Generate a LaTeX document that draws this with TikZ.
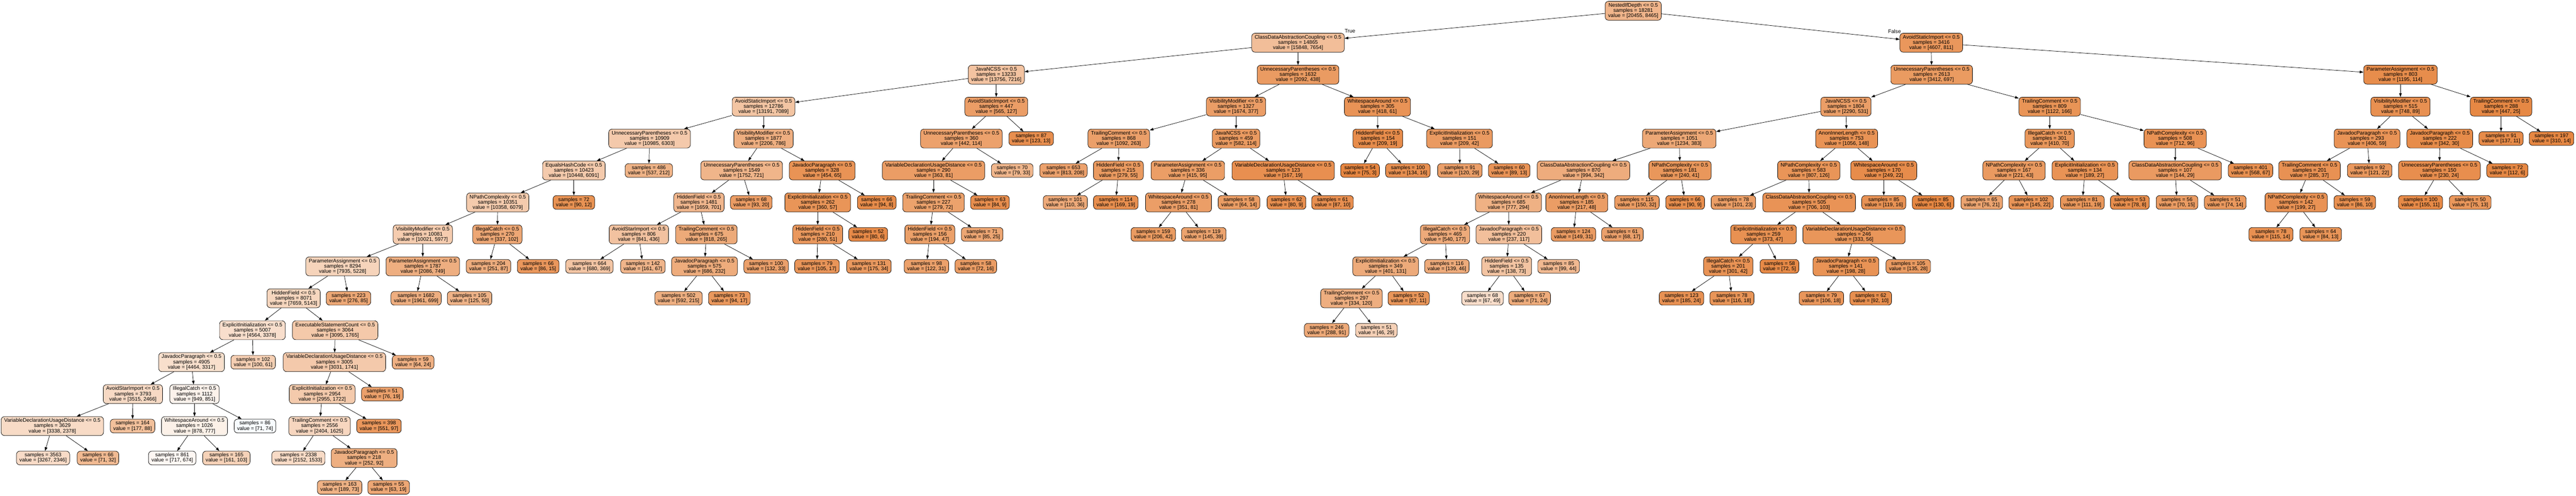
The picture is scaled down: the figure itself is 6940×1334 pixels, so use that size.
\documentclass[tikz,border=0pt]{standalone}
\usepackage{fontspec}
\setmainfont{Liberation Sans}
\usetikzlibrary{arrows.meta}
\definecolor{orng}{RGB}{229,129,57}
\definecolor{blu}{RGB}{57,157,229}
\newcommand{\setnfc}[2]{%
  \ifnum#1<#2\relax
    \edef\tmpc{blu!\fpeval{round(100*(1-#1/#2),2)}!white}%
  \else
    \edef\tmpc{orng!\fpeval{round(100*(1-#2/#1),2)}!white}%
  \fi
  \colorlet{nfc}{\tmpc}}
\newcommand{\levy}[1]{\ifnum#1=15 1312\else\the\numexpr29+86*#1\relax\fi}
\newcommand{\inode}[7]{\setnfc{#6}{#7}\edef\yy{\levy{#3}}%
  \node[tnode,minimum height=51pt] (#1) at (#2,\yy) {#4 <= 0.5\\samples = #5\\value = [#6, #7]};}
\newcommand{\lnode}[6]{\setnfc{#5}{#6}\edef\yy{\levy{#3}}%
  \node[tnode,minimum height=37pt] (#1) at (#2,\yy) {samples = #4\\value = [#5, #6]};}
\tikzset{
  tnode/.style={draw=black, line width=1pt, rounded corners=9pt, fill=nfc,
    inner xsep=8pt, inner ysep=0pt, align=center,
    font=\fontsize{14pt}{14pt}\selectfont},
  edge/.style={draw=black, line width=1pt, -{Triangle[length=10pt,width=7pt]}},
  lbl/.style={font=\fontsize{14pt}{14pt}\selectfont, inner sep=0pt}
}
\begin{document}
\begin{tikzpicture}[x=1pt,y=-1pt]
\useasboundingbox (0,0) rectangle (6940,1334);
\fill[white] (0,0) rectangle (6940,1334);
% level 0
\inode{r}{4400}{0}{NestedIfDepth}{18281}{20455}{8465}
% level 1
\inode{a}{3497}{1}{ClassDataAbstractionCoupling}{14865}{15848}{7654}
\inode{b}{5203}{1}{AvoidStaticImport}{3416}{4607}{811}
% level 2
\inode{a1}{2684}{2}{JavaNCSS}{13233}{13756}{7216}
\inode{a2}{3497}{2}{UnnecessaryParentheses}{1632}{2092}{438}
\inode{b1}{5204}{2}{UnnecessaryParentheses}{2613}{3412}{697}
\inode{b2}{6467}{2}{ParameterAssignment}{803}{1195}{114}
% level 3
\inode{a11}{2057}{3}{AvoidStaticImport}{12786}{13191}{7089}
\inode{a12}{2684}{3}{AvoidStaticImport}{447}{565}{127}
\inode{a21}{3330}{3}{VisibilityModifier}{1327}{1674}{377}
\inode{a22}{3711}{3}{WhitespaceAround}{305}{418}{61}
\inode{b11}{4973}{3}{JavaNCSS}{1804}{2290}{531}
\inode{b12}{5522}{3}{TrailingComment}{809}{1122}{166}
\inode{b21}{6467}{3}{VisibilityModifier}{515}{748}{89}
\inode{b22}{6738}{3}{TrailingComment}{288}{447}{25}
% level 4
\inode{c1}{1750}{4}{UnnecessaryParentheses}{10909}{10985}{6303}
\inode{c2}{2057}{4}{VisibilityModifier}{1877}{2206}{786}
\inode{c3}{2590}{4}{UnnecessaryParentheses}{360}{442}{114}
\lnode{c4}{2778}{4}{87}{123}{13}
\inode{c5}{3014}{4}{TrailingComment}{868}{1092}{263}
\inode{c6}{3330}{4}{JavaNCSS}{459}{582}{114}
\inode{c7}{3712}{4}{HiddenField}{154}{209}{19}
\inode{c8}{3932}{4}{ExplicitInitialization}{151}{209}{42}
\inode{c9}{4524}{4}{ParameterAssignment}{1051}{1234}{383}
\inode{c10}{4975}{4}{AnonInnerLength}{753}{1056}{148}
\inode{c11}{5522}{4}{IllegalCatch}{301}{410}{70}
\inode{c12}{5860}{4}{NPathComplexity}{508}{712}{96}
\inode{c13}{6377}{4}{JavadocParagraph}{293}{406}{59}
\inode{c14}{6573}{4}{JavadocParagraph}{222}{342}{30}
\lnode{c15}{6738}{4}{91}{137}{11}
\lnode{c16}{6874}{4}{197}{310}{14}
% level 5
\inode{d1}{1546}{5}{EqualsHashCode}{10423}{10448}{6091}
\lnode{d2}{1748}{5}{486}{537}{212}
\inode{d3}{1998}{5}{UnnecessaryParentheses}{1549}{1752}{721}
\inode{d4}{2215}{5}{JavadocParagraph}{328}{454}{65}
\inode{d5}{2515}{5}{VariableDeclarationUsageDistance}{290}{363}{81}
\lnode{d6}{2727}{5}{70}{79}{33}
\lnode{d7}{2865}{5}{653}{813}{208}
\inode{d8}{3013}{5}{HiddenField}{215}{279}{55}
\inode{d9}{3200}{5}{ParameterAssignment}{336}{415}{95}
\inode{d10}{3457}{5}{VariableDeclarationUsageDistance}{123}{167}{19}
\lnode{d11}{3664}{5}{54}{75}{3}
\lnode{d12}{3793}{5}{100}{134}{16}
\lnode{d13}{3933}{5}{91}{120}{29}
\lnode{d14}{4066}{5}{60}{89}{13}
\inode{d15}{4266}{5}{ClassDataAbstractionCoupling}{870}{994}{342}
\inode{d16}{4526}{5}{NPathComplexity}{181}{240}{41}
\inode{d17}{4873}{5}{NPathComplexity}{583}{807}{126}
\inode{d18}{5075}{5}{WhitespaceAround}{170}{249}{22}
\inode{d19}{5426}{5}{NPathComplexity}{167}{221}{43}
\inode{d20}{5617}{5}{ExplicitInitialization}{134}{189}{27}
\inode{d21}{5860}{5}{ClassDataAbstractionCoupling}{107}{144}{29}
\lnode{d22}{6063}{5}{401}{568}{67}
\inode{d23}{6222}{5}{TrailingComment}{201}{285}{37}
\lnode{d24}{6384}{5}{92}{121}{22}
\inode{d25}{6572}{5}{UnnecessaryParentheses}{150}{230}{24}
\lnode{d26}{6755}{5}{72}{112}{6}
% level 6
\inode{e1}{1341}{6}{NPathComplexity}{10351}{10358}{6079}
\lnode{e2}{1546}{6}{72}{90}{12}
\inode{e3}{1883}{6}{HiddenField}{1481}{1659}{701}
\lnode{e4}{2024}{6}{68}{93}{20}
\inode{e5}{2203}{6}{ExplicitInitialization}{262}{360}{57}
\lnode{e6}{2362}{6}{66}{94}{8}
\inode{e7}{2515}{6}{TrailingComment}{227}{279}{72}
\lnode{e8}{2667}{6}{63}{84}{9}
\lnode{e9}{2870}{6}{101}{110}{36}
\lnode{e10}{3006}{6}{114}{169}{19}
\inode{e11}{3175}{6}{WhitespaceAround}{278}{351}{81}
\lnode{e12}{3338}{6}{58}{64}{14}
\lnode{e13}{3466}{6}{62}{80}{9}
\lnode{e14}{3590}{6}{61}{87}{10}
\inode{e15}{4064}{6}{WhitespaceAround}{685}{777}{294}
\inode{e16}{4248}{6}{AnonInnerLength}{185}{217}{48}
\lnode{e17}{4410}{6}{115}{150}{32}
\lnode{e18}{4540}{6}{66}{90}{9}
\lnode{e19}{4670}{6}{78}{101}{23}
\inode{e20}{4874}{6}{ClassDataAbstractionCoupling}{505}{706}{103}
\lnode{e21}{5075}{6}{85}{119}{16}
\lnode{e22}{5208}{6}{85}{130}{6}
\lnode{e23}{5339}{6}{65}{76}{21}
\lnode{e24}{5472}{6}{102}{145}{22}
\lnode{e25}{5610}{6}{81}{111}{19}
\lnode{e26}{5738}{6}{53}{78}{8}
\lnode{e27}{5865}{6}{56}{70}{15}
\lnode{e28}{5995}{6}{51}{74}{14}
\inode{e29}{6186}{6}{NPathComplexity}{142}{199}{27}
\lnode{e30}{6344}{6}{59}{86}{10}
\lnode{e31}{6521}{6}{100}{155}{11}
\lnode{e32}{6655}{6}{50}{75}{13}
% level 7
\inode{f1}{1139}{7}{VisibilityModifier}{10081}{10021}{5977}
\inode{f2}{1340}{7}{IllegalCatch}{270}{337}{102}
\inode{f3}{1721}{7}{AvoidStarImport}{806}{841}{436}
\inode{f4}{1903}{7}{TrailingComment}{675}{818}{265}
\inode{f5}{2203}{7}{HiddenField}{210}{280}{51}
\lnode{f6}{2339}{7}{52}{80}{6}
\inode{f7}{2505}{7}{HiddenField}{156}{194}{47}
\lnode{f8}{2646}{7}{71}{85}{25}
\lnode{f9}{3107}{7}{159}{206}{42}
\lnode{f10}{3243}{7}{119}{145}{39}
\inode{f11}{3893}{7}{IllegalCatch}{465}{540}{177}
\inode{f12}{4065}{7}{JavadocParagraph}{220}{237}{117}
\lnode{f13}{4239}{7}{124}{149}{31}
\lnode{f14}{4371}{7}{61}{68}{17}
\inode{f15}{4751}{7}{ExplicitInitialization}{259}{373}{47}
\inode{f16}{4995}{7}{VariableDeclarationUsageDistance}{246}{333}{56}
\lnode{f17}{6118}{7}{78}{115}{14}
\lnode{f18}{6252}{7}{64}{84}{13}
% level 8
\inode{g1}{923}{8}{ParameterAssignment}{8294}{7935}{5228}
\inode{g2}{1139}{8}{ParameterAssignment}{1787}{2086}{749}
\lnode{g3}{1316}{8}{204}{251}{87}
\lnode{g4}{1450}{8}{66}{86}{15}
\lnode{g5}{1588}{8}{664}{680}{369}
\lnode{g6}{1732}{8}{142}{161}{67}
\inode{g7}{1898}{8}{JavadocParagraph}{575}{686}{232}
\lnode{g8}{2064}{8}{100}{132}{33}
\lnode{g9}{2201}{8}{79}{105}{17}
\lnode{g10}{2341}{8}{131}{175}{34}
\lnode{g11}{2496}{8}{98}{122}{31}
\lnode{g12}{2629}{8}{58}{72}{16}
\inode{g13}{3733}{8}{ExplicitInitialization}{349}{401}{131}
\lnode{g14}{3898}{8}{116}{139}{46}
\inode{g15}{4059}{8}{HiddenField}{135}{138}{73}
\lnode{g16}{4199}{8}{85}{99}{44}
\inode{g17}{4656}{8}{IllegalCatch}{201}{301}{42}
\lnode{g18}{4794}{8}{58}{72}{5}
\inode{g19}{4973}{8}{JavadocParagraph}{141}{198}{28}
\lnode{g20}{5141}{8}{105}{135}{28}
% level 9
\inode{h1}{791}{9}{HiddenField}{8071}{7659}{5143}
\lnode{h2}{939}{9}{223}{276}{85}
\lnode{h3}{1121}{9}{1682}{1961}{699}
\lnode{h4}{1265}{9}{105}{125}{50}
\lnode{h5}{1828}{9}{502}{592}{215}
\lnode{h6}{1965}{9}{73}{94}{17}
\inode{h7}{3641}{9}{TrailingComment}{297}{334}{120}
\lnode{h8}{3795}{9}{52}{67}{11}
\lnode{h9}{3994}{9}{68}{67}{49}
\lnode{h10}{4121}{9}{67}{71}{24}
\lnode{h11}{4530}{9}{123}{185}{24}
\lnode{h12}{4666}{9}{78}{116}{18}
\lnode{h13}{4907}{9}{79}{106}{18}
\lnode{h14}{5040}{9}{62}{92}{10}
% level 10
\inode{i1}{680}{10}{ExplicitInitialization}{5007}{4564}{3378}
\inode{i2}{903}{10}{ExecutableStatementCount}{3064}{3095}{1765}
\lnode{i3}{3574}{10}{246}{288}{91}
\lnode{i4}{3708}{10}{51}{46}{29}
% level 11
\inode{j1}{516}{11}{JavadocParagraph}{4905}{4464}{3317}
\lnode{j2}{682}{11}{102}{100}{61}
\inode{j3}{901}{11}{VariableDeclarationUsageDistance}{3005}{3031}{1741}
\lnode{j4}{1113}{11}{59}{64}{24}
% level 12
\inode{k1}{358}{12}{AvoidStarImport}{3793}{3515}{2466}
\inode{k2}{524}{12}{IllegalCatch}{1112}{949}{851}
\inode{k3}{868}{12}{ExplicitInitialization}{2954}{2955}{1722}
\lnode{k4}{1030}{12}{51}{76}{19}
% level 13
\inode{l1}{141}{13}{VariableDeclarationUsageDistance}{3629}{3338}{2378}
\lnode{l2}{357}{13}{164}{177}{88}
\inode{l3}{524}{13}{WhitespaceAround}{1026}{878}{777}
\lnode{l4}{687}{13}{86}{71}{74}
\inode{l5}{861}{13}{TrailingComment}{2556}{2404}{1625}
\lnode{l6}{1021}{13}{398}{551}{97}
% level 14
\lnode{m1}{116}{14}{3563}{3267}{2346}
\lnode{m2}{264}{14}{66}{71}{32}
\lnode{m3}{464}{14}{861}{717}{674}
\lnode{m4}{610}{14}{165}{161}{103}
\lnode{m5}{804}{14}{2338}{2152}{1533}
\inode{m6}{981}{14}{JavadocParagraph}{218}{252}{92}
% level 15
\lnode{n1}{915}{15}{163}{189}{73}
\lnode{n2}{1047}{15}{55}{63}{19}
% edges
\foreach \p/\c in {r/a, r/b,
 a/a1, a/a2, b/b1, b/b2,
 a1/a11, a1/a12, a2/a21, a2/a22, b1/b11, b1/b12, b2/b21, b2/b22,
 a11/c1, a11/c2, a12/c3, a12/c4, a21/c5, a21/c6, a22/c7, a22/c8, b11/c9, b11/c10, b12/c11, b12/c12, b21/c13, b21/c14, b22/c15, b22/c16,
 c1/d1, c1/d2, c2/d3, c2/d4, c3/d5, c3/d6, c5/d7, c5/d8, c6/d9, c6/d10, c7/d11, c7/d12, c8/d13, c8/d14, c9/d15, c9/d16, c10/d17, c10/d18, c11/d19, c11/d20, c12/d21, c12/d22, c13/d23, c13/d24, c14/d25, c14/d26,
 d1/e1, d1/e2, d3/e3, d3/e4, d4/e5, d4/e6, d5/e7, d5/e8, d8/e9, d8/e10, d9/e11, d9/e12, d10/e13, d10/e14, d15/e15, d15/e16, d16/e17, d16/e18, d17/e19, d17/e20, d18/e21, d18/e22, d19/e23, d19/e24, d20/e25, d20/e26, d21/e27, d21/e28, d23/e29, d23/e30, d25/e31, d25/e32,
 e1/f1, e1/f2, e3/f3, e3/f4, e5/f5, e5/f6, e7/f7, e7/f8, e11/f9, e11/f10, e15/f11, e15/f12, e16/f13, e16/f14, e20/f15, e20/f16, e29/f17, e29/f18,
 f1/g1, f1/g2, f2/g3, f2/g4, f3/g5, f3/g6, f4/g7, f4/g8, f5/g9, f5/g10, f7/g11, f7/g12, f11/g13, f11/g14, f12/g15, f12/g16, f15/g17, f15/g18, f16/g19, f16/g20,
 g1/h1, g1/h2, g2/h3, g2/h4, g7/h5, g7/h6, g13/h7, g13/h8, g15/h9, g15/h10, g17/h11, g17/h12, g19/h13, g19/h14,
 h1/i1, h1/i2, h7/i3, h7/i4,
 i1/j1, i1/j2, i2/j3, i2/j4,
 j1/k1, j1/k2, j3/k3, j3/k4,
 k1/l1, k1/l2, k2/l3, k2/l4, k3/l5, k3/l6,
 l1/m1, l1/m2, l3/m3, l3/m4, l5/m5, l5/m6,
 m6/n1, m6/n2}
 {\draw[edge] (\p) -- (\c);}
\node[lbl] (ltrue) at (3637,83) {True};
\node[lbl] (lfalse) at (5104,85) {False};
\end{tikzpicture}
\end{document}
